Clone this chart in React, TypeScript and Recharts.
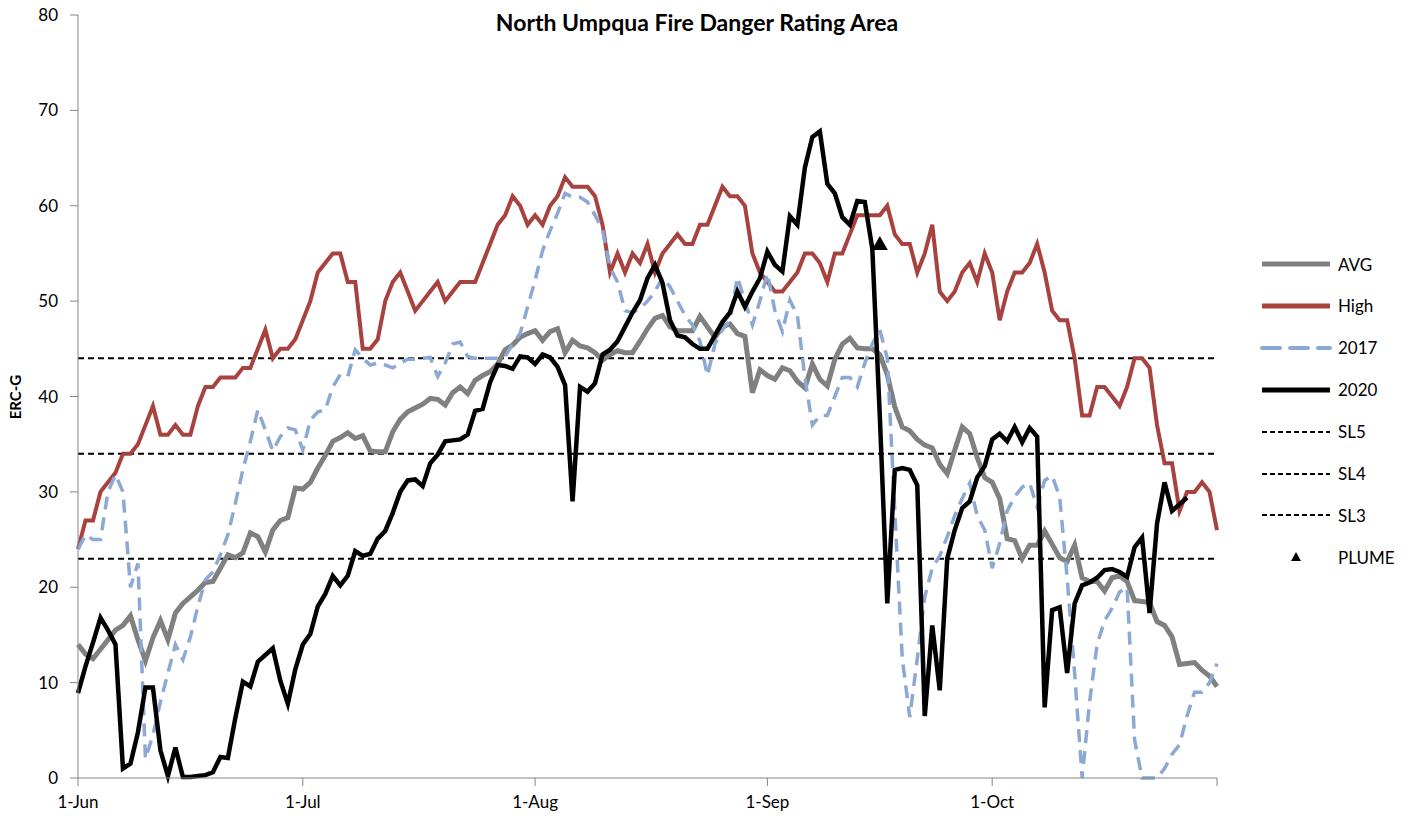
import {
  ComposedChart,
  Line,
  Scatter,
  XAxis,
  YAxis,
  ReferenceLine,
} from "recharts";

// day 0 = 1-Jun, day 152 = 31-Oct
const xTicks = [0, 30, 61, 92, 122, 152];
const xTickLabels = ["1-Jun", "1-Jul", "1-Aug", "1-Sep", "1-Oct", ""];
const yTicks = [0, 10, 20, 30, 40, 50, 60, 70, 80];

const avg = [
  14, 13, 12.5, 13.5, 14.5, 15.5, 16, 17, 14.5, 12.3, 14.7, 16.5, 14.5, 17.3, 18.3, 19, 19.7, 20.5, 20.6, 22,
  23.4, 23.1, 23.6, 25.7, 25.3, 23.7, 26, 27, 27.3, 30.4, 30.3, 31, 32.5, 33.8, 35.3, 35.7, 36.2, 35.6, 35.9, 34.3,
  34.2, 34.2, 36.3, 37.6, 38.4, 38.8, 39.2, 39.8, 39.7, 39.1, 40.4, 41, 40.3, 41.7, 42.2, 42.6, 43.4, 44.9, 45.4, 46.2,
  46.6, 46.9, 45.9, 46.8, 47.1, 44.6, 45.9, 45.3, 45.1, 44.6, 43.8, 44.4, 44.8, 44.6, 44.6, 45.8, 47.1, 48.2, 48.5, 47.3,
  46.9, 46.9, 46.9, 48.4, 47.3, 46.2, 47.3, 47.6, 46.6, 46.3, 40.4, 42.8, 42.2, 41.8, 43, 42.7, 41.6, 40.9, 43.4, 41.8,
  41.1, 43.9, 45.5, 46.1, 45.1, 45, 45, 44.4, 42.3, 38.9, 36.8, 36.4, 35.5, 34.9, 34.6, 32.9, 31.9, 34.4, 36.8, 36.1,
  33.6, 31.5, 31, 29.3, 25.1, 24.9, 23, 24.4, 24.4, 25.9, 24.5, 23.1, 22.7, 24.4, 21, 20.6, 20.6, 19.6, 21, 21.2,
  20.6, 18.6, 18.5, 18.4, 16.4, 16, 14.8, 11.9, 12, 12.1, 11.3, 10.7, 9.6,
];

const high = [
  24, 27, 27, 30, 31, 32, 34, 34, 35, 37, 39, 36, 36, 37, 36, 36, 39, 41, 41, 42,
  42, 42, 43, 43, 45, 47, 44, 45, 45, 46, 48, 50, 53, 54, 55, 55, 52, 52, 45, 45,
  46, 50, 52, 53, 51, 49, 50, 51, 52, 50, 51, 52, 52, 52, 54, 56, 58, 59, 61, 60,
  58, 59, 58, 60, 61, 63, 62, 62, 62, 61, 58, 53, 55, 53, 55, 54, 56, 53, 55, 56,
  57, 56, 56, 58, 58, 60, 62, 61, 61, 60, 55, 53, 52, 51, 51, 52, 53, 55, 55, 54,
  52, 55, 55, 57, 59, 59, 59, 59, 60, 57, 56, 56, 53, 55, 58, 51, 50, 51, 53, 54,
  52, 55, 53, 48, 51, 53, 53, 54, 56, 53, 49, 48, 48, 44, 38, 38, 41, 41, 40, 39,
  41, 44, 44, 43, 37, 33, 33, 28, 30, 30, 31, 30, 26,
];

const y2017 = [
  24, 25.5, 25, 25, 30, 31.8, 30, 20, 22.5, 2, 4.5, 8, 11, 14, 12.4, 14.8, 18, 20.8, 21.6, 23.4,
  25.5, 28.8, 32.3, 35.3, 38.6, 36.5, 34.3, 35.8, 36.7, 36.5, 34.4, 37.5, 38.4, 38.6, 41, 42.3, 42.1, 44.9, 44, 43.3,
  43.5, 43.3, 43, 43.5, 43.9, 43.9, 44, 44.1, 42.1, 43.5, 45.5, 45.7, 44.2, 44, 44, 44, 44, 44.2, 45.5, 46.6,
  49.4, 52.2, 55.3, 57.4, 59.2, 61.3, 60.9, 60.9, 60.4, 59, 57.5, 53.5, 52, 49, 48.8, 49.2, 50, 51, 52.5, 51.5,
  50, 48.5, 47.5, 45.8, 42.2, 45.5, 47, 48, 52.5, 50, 47.5, 50, 52.9, 49, 46.8, 50.1, 48.5, 42, 37, 38,
  38, 40, 42, 42, 41, 43.5, 45.5, 47, 44, 28, 12.5, 6.4, 12.5, 19, 22, 23.3, 25.3, 27.5, 29.3, 30.9,
  27.5, 26, 22, 24.6, 28, 29.5, 30.5, 30.9, 28.4, 31.2, 31.7, 29.5, 21, 11, 0, 8, 14, 16.5, 17.8, 19.5,
  20, 4, 0, 0, 0, 1, 2.5, 3.5, 6.5, 9, 9, 10, 12,
];

const y2020 = [
  8.9, 11.7, 14.2, 16.8, 15.5, 14, 1, 1.5, 4.8, 9.5, 9.5, 2.9, 0.2, 3.2, 0.1, 0.1, 0.2, 0.3, 0.6, 2.2,
  2.1, 6.3, 10.1, 9.6, 12.2, 12.9, 13.6, 10.2, 7.8, 11.4, 14, 15.1, 18, 19.3, 21.2, 20.2, 21.2, 23.8, 23.3, 23.5,
  25.1, 25.9, 27.8, 30, 31.2, 31.3, 30.6, 33, 33.9, 35.3, 35.4, 35.5, 36, 38.5, 38.7, 41.5, 43.3, 43.2, 42.9, 44.2,
  44.1, 43.4, 44.4, 44.1, 43.1, 41.2, 29, 41, 40.5, 41.4, 44.4, 44.9, 45.8, 47.3, 48.8, 50.1, 52.4, 53.8, 51.9, 48,
  46.4, 46.2, 45.5, 45, 45, 46.4, 47.8, 48.8, 51, 49.4, 51, 52.4, 55.2, 53.8, 53.1, 58.9, 58, 64, 67.2, 67.8,
  62.3, 61.3, 58.8, 58, 60.5, 60.4, 55.5, 38, 18.3, 32.3, 32.5, 32.3, 30.7, 6.5, 16, 9.2, 23, 26, 28.3, 29,
  31.5, 32.7, 35.5, 36.1, 35.3, 36.8, 35.2, 36.7, 35.8, 7.4, 17.6, 17.9, 11, 18.3, 20.2, 20.5, 21, 21.8, 21.9, 21.6,
  21.1, 24.2, 25.2, 17.3, 26.7, 31, 28, 28.7, 29.4,
];

const thresholds = [
  { name: "SL5", value: 44 },
  { name: "SL4", value: 34 },
  { name: "SL3", value: 23 },
];

const plume = [{ day: 107, value: 56 }];

const rows = high.map((h, i) => ({
  day: i,
  avg: avg[i],
  high: h,
  y2017: y2017[i],
  y2020: i < y2020.length ? y2020[i] : null,
}));

const FONT = "Lato, 'Open Sans', sans-serif";
const GRAY = "#808080";
const RED = "#A8423F";
const BLUE = "#8CA8D5";

const Triangle = (props: any) => {
  const { cx, cy } = props;
  if (cx == null || cy == null) return null;
  return <polygon points={`${cx},${cy - 8} ${cx - 8},${cy + 6} ${cx + 8},${cy + 6}`} fill="#000" />;
};

const legendItems = [
  { label: "AVG", kind: "line", color: GRAY, width: 5, dash: "" },
  { label: "High", kind: "line", color: RED, width: 5, dash: "" },
  { label: "2017", kind: "line", color: BLUE, width: 4, dash: "18 10" },
  { label: "2020", kind: "line", color: "#000", width: 5, dash: "" },
  { label: "SL5", kind: "line", color: "#000", width: 2, dash: "5 3" },
  { label: "SL4", kind: "line", color: "#000", width: 2, dash: "5 3" },
  { label: "SL3", kind: "line", color: "#000", width: 2, dash: "5 3" },
  { label: "PLUME", kind: "marker", color: "#000", width: 0, dash: "" },
];

export default function App() {
  return (
    <div style={{ position: "relative", width: 1400, height: 821, marginTop: -6, fontFamily: FONT, background: "#fff" }}>
      <div
        style={{
          position: "absolute",
          left: 389,
          top: 6,
          width: 600,
          textAlign: "center",
          fontWeight: 700,
          fontSize: 23,
          color: "#000",
        }}
      >
        North Umpqua Fire Danger Rating Area
      </div>
      <div
        style={{
          position: "absolute",
          left: 7,
          top: 395,
          transform: "translate(-50%, -50%) rotate(-90deg)",
          fontWeight: 700,
          fontSize: 15,
          whiteSpace: "nowrap",
        }}
      >
        ERC-G
      </div>

      <ComposedChart
        width={1400}
        height={821}
        data={rows}
        margin={{ top: 13, right: 191, bottom: 15, left: 0 }}
      >
        <XAxis
          dataKey="day"
          type="number"
          domain={[0, 152]}
          ticks={xTicks}
          interval={0}
          tickFormatter={(v: number) => xTickLabels[xTicks.indexOf(v)] ?? ""}
          tickSize={8}
          tickMargin={10}
          height={30}
          stroke="#868686"
          tick={{ fill: "#000", fontSize: 17, fontFamily: FONT }}
        />
        <YAxis
          type="number"
          domain={[0, 80]}
          ticks={yTicks}
          interval={0}
          width={70}
          tickSize={8}
          tickMargin={12}
          stroke="#868686"
          tick={{ fill: "#000", fontSize: 17, fontFamily: FONT }}
        />
        {thresholds.map((t) => (
          <ReferenceLine
            key={t.name}
            y={t.value}
            stroke="#000"
            strokeWidth={2}
            strokeDasharray="6 4"
          />
        ))}
        <Line type="linear" dataKey="avg" stroke={GRAY} strokeWidth={5} dot={false} activeDot={false} isAnimationActive={false} />
        <Line type="linear" dataKey="high" stroke={RED} strokeWidth={4} dot={false} activeDot={false} isAnimationActive={false} />
        <Line
          type="linear"
          dataKey="y2017"
          stroke={BLUE}
          strokeWidth={3.5}
          strokeDasharray="13 8"
          dot={false}
          activeDot={false}
          isAnimationActive={false}
        />
        <Line type="linear" dataKey="y2020" stroke="#000" strokeWidth={4.5} dot={false} activeDot={false} isAnimationActive={false} />
        <Scatter data={plume} dataKey="value" shape={Triangle} isAnimationActive={false} />
      </ComposedChart>

      {legendItems.map((item, i) => (
        <div
          key={item.label}
          style={{
            position: "absolute",
            left: 1252,
            top: 262 + i * 41.9 - 11,
            height: 22,
            display: "flex",
            alignItems: "center",
            fontSize: 17,
            color: "#000",
          }}
        >
          <svg width={72} height={22}>
            {item.kind === "line" ? (
              <line
                x1={2}
                y1={11}
                x2={70}
                y2={11}
                stroke={item.color}
                strokeWidth={item.width}
                strokeDasharray={item.dash || undefined}
                strokeLinecap={item.dash && item.width > 2 ? "round" : "butt"}
              />
            ) : (
              <polygon points="36,6 31,15 41,15" fill="#000" />
            )}
          </svg>
          <span style={{ marginLeft: 6 }}>{item.label}</span>
        </div>
      ))}
    </div>
  );
}
